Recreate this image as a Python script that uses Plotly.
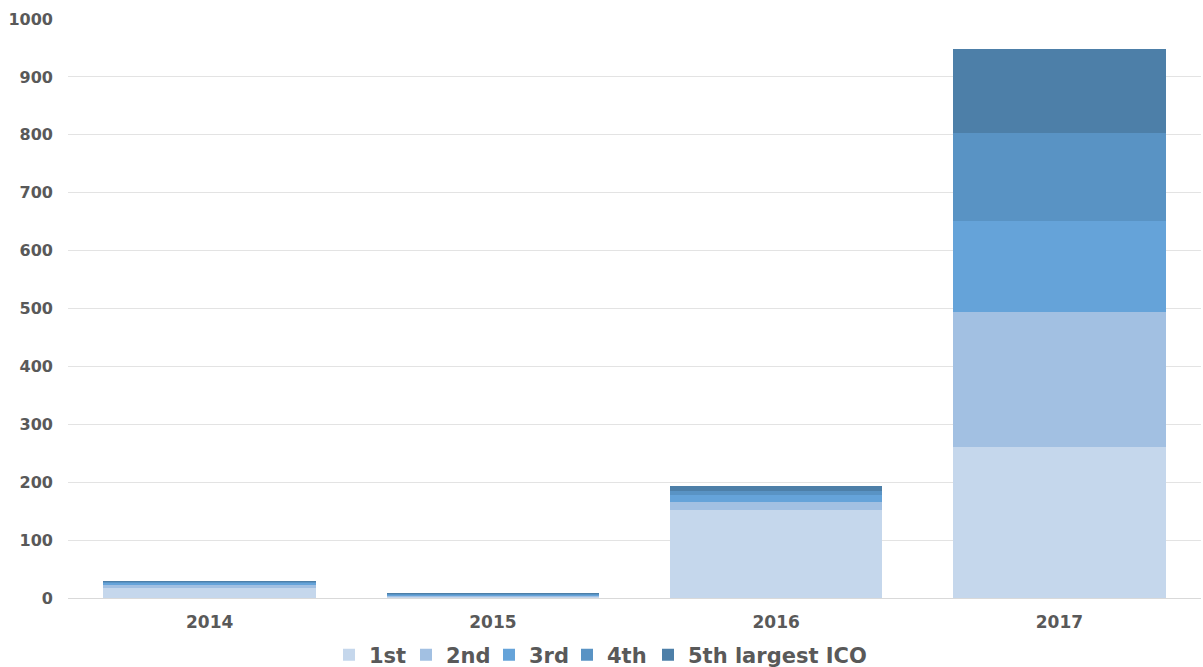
import plotly.graph_objects as go

years = ["2014", "2015", "2016", "2017"]
series_names = ["1st", "2nd", "3rd", "4th", "5th largest ICO"]
first = [18, 3, 152, 261]
second = [6, 2, 14, 233]
third = [2.5, 1.5, 12, 157]
fourth = [1.5, 1, 6, 152]
fifth = [1, 0.5, 10, 145]
colors = ["#C5D7EC", "#A2C0E2", "#65A3D9", "#5993C4", "#4D7FA8"]
legend_widths = [32, 38, 33, 36, None]
y_ticks = [0, 100, 200, 300, 400, 500, 600, 700, 800, 900, 1000]

fig = go.Figure()
for name, vals, col, lw in zip(series_names, [first, second, third, fourth, fifth], colors, legend_widths):
    tr = go.Bar(x=years, y=vals, name=name, marker=dict(color=col, line=dict(width=0)))
    if lw is not None:
        tr.legendwidth = lw
    fig.add_trace(tr)

font_family = "DejaVu Sans"
fig.update_layout(
    barmode="stack",
    bargap=0.25,
    width=1203, height=667,
    margin=dict(l=68, r=2, t=19, b=69, autoexpand=False),
    plot_bgcolor="white", paper_bgcolor="white",
    font=dict(family=font_family, color="#595959"),
    legend=dict(orientation="h", x=(329 - 68) / 1133, xanchor="left", yref="container",
                y=0.018, yanchor="middle",
                font=dict(size=21, family=font_family, color="#595959", weight="bold"),
                traceorder="normal", itemwidth=30),
    xaxis=dict(showline=True, linecolor="#D9D9D9", linewidth=1, ticks="", automargin=False,
               ticklabelstandoff=9,
               tickfont=dict(size=17, family=font_family, color="#595959", weight="bold")),
    yaxis=dict(range=[0, 1000], tickvals=y_ticks, showgrid=True, gridcolor="#E3E3E3",
               zeroline=False, ticks="", ticklabelstandoff=14, automargin=False,
               tickfont=dict(size=16, family=font_family, color="#595959", weight="bold")),
)
fig.write_html("out.html", config={"displayModeBar": False},
               post_script="document.body.style.margin='0';document.body.style.overflow='hidden';")
